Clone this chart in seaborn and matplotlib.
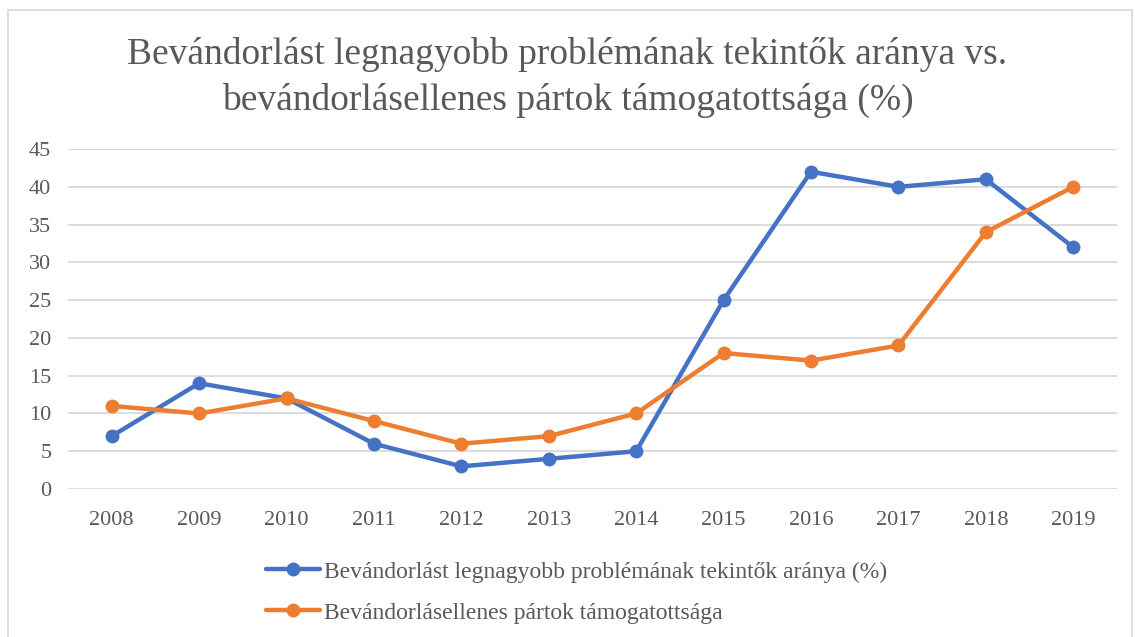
import pandas as pd
import matplotlib.pyplot as plt
import seaborn as sns

# Chart data
years = ['2008', '2009', '2010', '2011', '2012', '2013', '2014', '2015', '2016', '2017', '2018', '2019']
problem_share = [7, 14, 12, 6, 3, 4, 5, 25, 42, 40, 41, 32]
party_support = [11, 10, 12, 9, 6, 7, 10, 18, 17, 19, 34, 40]
series_names = ['Bevándorlást legnagyobb problémának tekintők aránya (%)',
                'Bevándorlásellenes pártok támogatottsága']

df = pd.DataFrame({
    'year': years * 2,
    'value': problem_share + party_support,
    'series': [series_names[0]] * len(years) + [series_names[1]] * len(years),
})

sns.set_style('white')
plt.rcParams['font.family'] = ['Liberation Serif', 'DejaVu Serif']

fig = plt.figure(figsize=(11.35, 6.37), dpi=100)
ax = fig.add_axes([0.0599, 0.2323, 0.9242, 0.5337])

sns.lineplot(data=df, x='year', y='value', hue='series', ax=ax,
             palette=['#4472C4', '#ED7D31'], linewidth=3.2,
             marker='o', markersize=10, markeredgewidth=0, sort=False)

ax.set_xlim(-0.5, len(years) - 0.5)
ax.set_ylim(0, 45)
ax.set_yticks(range(0, 46, 5))
ax.grid(axis='y', color='#d9d9d9', linewidth=1.3)
ax.set_axisbelow(True)
for s in ax.spines.values():
    s.set_visible(False)
ax.tick_params(axis='both', length=0, labelsize=16, colors='#595959', pad=12)
ax.tick_params(axis='x', pad=16)
ax.set_xlabel('')
ax.set_ylabel('')

ax.get_legend().remove()
handles, labels = ax.get_legend_handles_labels()
fig.legend(handles, labels, loc='upper left', bbox_to_anchor=(0.226, 0.134),
           frameon=False, fontsize=17, handlelength=2.3, handletextpad=0.15,
           labelspacing=0.83, labelcolor='#595959', borderaxespad=0)

fig.suptitle('Bevándorlást legnagyobb problémának tekintők aránya vs.\n'
             'bevándorlásellenes pártok támogatottsága (%)',
             fontsize=27, color='#595959', y=0.942, linespacing=1.4)

# light frame around the chart
fig.patches.append(plt.Rectangle((0.007, -0.01), 0.99, 0.995, transform=fig.transFigure,
                                 fill=False, edgecolor='#d9d9d9', linewidth=1.2))

fig.savefig('out.png', dpi=100)
